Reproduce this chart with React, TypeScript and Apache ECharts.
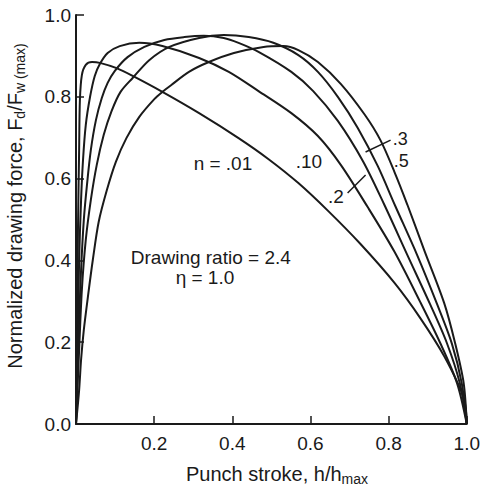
import { useEffect, useRef } from "react";
import * as echarts from "echarts";

// Tick labels
const xTickValues = [0, 0.2, 0.4, 0.6, 0.8, 1.0];
const yTickValues = [0, 0.2, 0.4, 0.6, 0.8, 1.0];

// Curves: [h/hmax, Fd/Fw(max)] per strain-hardening exponent n
const curveN001 = [
  [0, 0], [0.003, 0.23], [0.005, 0.474], [0.008, 0.67], [0.01, 0.792], [0.015, 0.853],
  [0.025, 0.878], [0.041, 0.885], [0.061, 0.883], [0.104, 0.87], [0.145, 0.851],
  [0.221, 0.812], [0.315, 0.76], [0.416, 0.699], [0.492, 0.648], [0.569, 0.589],
  [0.645, 0.521], [0.728, 0.44], [0.815, 0.345], [0.881, 0.259], [0.942, 0.166],
  [0.992, 0.064], [1, 0],
];
const curveN010 = [
  [0, 0], [0.005, 0.23], [0.008, 0.401], [0.013, 0.548], [0.018, 0.646], [0.025, 0.731],
  [0.036, 0.8], [0.048, 0.851], [0.061, 0.88], [0.081, 0.907], [0.112, 0.924],
  [0.162, 0.932], [0.221, 0.924], [0.315, 0.895], [0.391, 0.861], [0.467, 0.814],
  [0.551, 0.76], [0.619, 0.704], [0.678, 0.633], [0.746, 0.531], [0.815, 0.421],
  [0.881, 0.298], [0.932, 0.198], [0.975, 0.1], [1, 0],
];
const curveN02 = [
  [0, 0], [0.003, 0.108], [0.008, 0.254], [0.013, 0.377], [0.02, 0.499], [0.028, 0.584],
  [0.038, 0.67], [0.051, 0.743], [0.066, 0.797], [0.081, 0.834], [0.099, 0.863],
  [0.132, 0.897], [0.175, 0.922], [0.226, 0.939], [0.277, 0.946], [0.327, 0.949],
  [0.378, 0.944], [0.416, 0.932], [0.467, 0.91], [0.551, 0.861], [0.607, 0.814],
  [0.67, 0.741], [0.734, 0.643], [0.789, 0.536], [0.848, 0.413], [0.906, 0.293],
  [0.949, 0.198], [0.982, 0.1], [1, 0],
];
const curveN03 = [
  [0, 0], [0.008, 0.181], [0.015, 0.328], [0.025, 0.45], [0.038, 0.548], [0.053, 0.633],
  [0.071, 0.707], [0.091, 0.765], [0.114, 0.812], [0.145, 0.846], [0.188, 0.89],
  [0.239, 0.922], [0.315, 0.944], [0.378, 0.951], [0.442, 0.946], [0.505, 0.932],
  [0.569, 0.902], [0.619, 0.861], [0.67, 0.8], [0.721, 0.724], [0.772, 0.631],
  [0.817, 0.533], [0.873, 0.413], [0.924, 0.293], [0.962, 0.196], [0.987, 0.1], [1, 0],
];
const curveN05 = [
  [0, 0], [0.008, 0.083], [0.013, 0.157], [0.02, 0.23], [0.031, 0.315], [0.043, 0.401],
  [0.058, 0.494], [0.079, 0.572], [0.102, 0.641], [0.129, 0.699], [0.162, 0.751],
  [0.201, 0.795], [0.221, 0.812], [0.244, 0.829], [0.289, 0.861], [0.34, 0.885],
  [0.404, 0.907], [0.48, 0.922], [0.531, 0.924], [0.569, 0.914], [0.619, 0.885],
  [0.678, 0.831], [0.739, 0.756], [0.779, 0.694], [0.815, 0.616], [0.848, 0.536],
  [0.891, 0.425], [0.942, 0.296], [0.97, 0.198], [0.992, 0.1], [1, 0],
];
const curves = [curveN001, curveN010, curveN02, curveN03, curveN05];

// Leader lines (data coordinates)
const leader03 = [[0.741, 0.665], [0.805, 0.694]];
const leader02 = [[0.695, 0.565], [0.741, 0.609]];

// Annotation texts and their anchor (data coordinates)
const annotationTexts = ["n = .01", ".10", ".2", ".3", ".5", "Drawing ratio = 2.4", "\u03b7 = 1.0"];
const annotationAnchors = [
  [0.376, 0.638], [0.596, 0.641], [0.665, 0.557], [0.83, 0.696], [0.832, 0.642],
  [0.345, 0.408], [0.33, 0.357],
];
const annotationSizes = [19, 19, 19, 18, 18, 19, 19];

const FONT = "'Liberation Sans', Arial, Helvetica, sans-serif";
const INK = "#1a1a1a";

export default function App() {
  const ref = useRef<HTMLDivElement>(null);
  useEffect(() => {
    const chart = echarts.init(ref.current!, null, { renderer: "svg" });
    const lineSeries = curves.map((c) => ({
      type: "line",
      data: c,
      showSymbol: false,
      smooth: 0.3,
      lineStyle: { color: INK, width: 2 },
      silent: true,
    }));
    const leaders = [leader03, leader02].map((c) => ({
      type: "line",
      data: c,
      showSymbol: false,
      lineStyle: { color: INK, width: 1.5 },
      silent: true,
    }));
    chart.setOption({
      animation: false,
      backgroundColor: "#ffffff",
      grid: { left: 76, right: 13, top: 15, bottom: 63, containLabel: false },
      xAxis: {
        type: "value",
        min: 0,
        max: 1,
        interval: 0.2,
        axisLine: { show: true, lineStyle: { color: INK, width: 2 } },
        axisTick: { show: true, inside: true, length: 8, lineStyle: { color: INK, width: 1.5 } },
        splitLine: { show: false },
        axisLabel: {
          color: INK,
          fontSize: 19,
          fontFamily: FONT,
          margin: 10,
          formatter: (v: number) => (xTickValues.indexOf(v) > 0 ? v.toFixed(1) : ""),
        },
      },
      yAxis: {
        type: "value",
        min: 0,
        max: 1,
        interval: 0.2,
        axisLine: { show: true, lineStyle: { color: INK, width: 2 } },
        axisTick: { show: true, inside: true, length: 8, lineStyle: { color: INK, width: 1.5 } },
        splitLine: { show: false },
        axisLabel: {
          color: INK,
          fontSize: 19,
          fontFamily: FONT,
          margin: 5,
          formatter: (v: number) => (yTickValues.indexOf(v) >= 0 ? v.toFixed(1) : ""),
        },
      },
      series: [...lineSeries, ...leaders],
    });

    const annGraphics = annotationTexts.map((t, i) => {
      const p = chart.convertToPixel("grid", annotationAnchors[i]) as number[];
      return {
        type: "text",
        x: p[0],
        y: p[1],
        silent: true,
        style: {
          text: t,
          fill: INK,
          font: `${annotationSizes[i]}px ${FONT}`,
          align: "center",
          verticalAlign: "middle",
        },
      };
    });

    chart.setOption({
      graphic: [
        ...annGraphics,
        {
          type: "text",
          x: 277,
          y: 474,
          silent: true,
          style: {
            text: "Punch stroke, h/h{sub|max}",
            fill: INK,
            font: `20px ${FONT}`,
            align: "center",
            verticalAlign: "middle",
            rich: {
              sub: { fontSize: 14, fontFamily: FONT, fill: INK, padding: [10, 0, 0, 0] },
            },
          },
        },
        {
          type: "text",
          x: 15,
          y: 206,
          rotation: Math.PI / 2,
          silent: true,
          style: {
            text: "Normalized drawing force, F{sub|d}/F{sub|w (max)}",
            fill: INK,
            font: `20px ${FONT}`,
            align: "center",
            verticalAlign: "middle",
            rich: {
              sub: { fontSize: 14, fontFamily: FONT, fill: INK, padding: [10, 0, 0, 0] },
            },
          },
        },
      ],
    });
    return () => chart.dispose();
  }, []);
  return (
    <div
      ref={ref}
      style={{ position: "fixed", left: 0, top: 0, width: 483, height: 487 }}
    />
  );
}
